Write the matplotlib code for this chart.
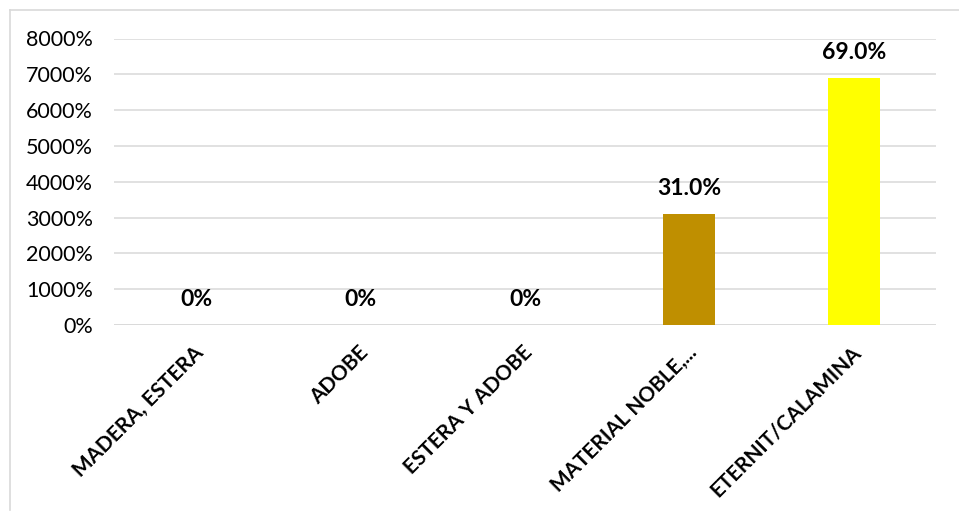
import matplotlib
matplotlib.use("Agg")
import matplotlib.pyplot as plt
from matplotlib.lines import Line2D
from matplotlib.ticker import FuncFormatter, MultipleLocator
from matplotlib.transforms import ScaledTranslation

categories = ["MADERA, ESTERA", "ADOBE", "ESTERA Y ADOBE", "MATERIAL NOBLE,...", "ETERNIT/CALAMINA"]
values = [0, 0, 0, 31, 69]
bar_labels = ["0%", "0%", "0%", "31.0%", "69.0%"]
colors = ["#BF8F00", "#BF8F00", "#BF8F00", "#BF8F00", "#FFFF00"]

plt.rcParams["font.family"] = ["Lato", "DejaVu Sans"]

W, H = 959, 515
fig = plt.figure(figsize=(W / 100, H / 100), dpi=100)
ax = fig.add_axes([114 / W, 1 - 325 / H, (936 - 114) / W, (325 - 38.5) / H])

x = range(len(categories))
ax.bar(x, values, width=0.316, color=colors, zorder=3)
ax.set_xlim(-0.5, len(categories) - 0.5)
ax.set_ylim(0, 80)
ax.yaxis.set_major_locator(MultipleLocator(10))
ax.yaxis.set_major_formatter(FuncFormatter(lambda v, p: f"{v * 100:.0f}%"))
ax.grid(axis="y", color="#D9D9D9", linewidth=1.1, zorder=0)
for s in ax.spines.values():
    s.set_visible(False)
ax.axhline(0, color="#D9D9D9", linewidth=1.1, zorder=1)
ax.tick_params(axis="y", length=0, pad=15, labelsize=15.5, labelcolor="#000000")
ax.tick_params(axis="x", length=0, pad=4)
ax.set_xticks(list(x))
ax.set_xticklabels(categories, rotation=45, ha="right", rotation_mode="anchor",
                   fontsize=15, fontweight="bold")
for lbl in ax.get_xticklabels():
    lbl.set_transform(lbl.get_transform() + ScaledTranslation(-3 / 100, -12 / 100, fig.dpi_scale_trans))

for xi, v, t in zip(x, values, bar_labels):
    ax.annotate(t, (xi, v), xytext=(0, 18), textcoords="offset points",
                ha="center", va="center", fontsize=16.5, fontweight="bold", zorder=4)

# chart frame
fig.add_artist(Line2D([9.5 / W, 1], [1 - 9.5 / H, 1 - 9.5 / H], color="#D9D9D9", linewidth=1.2))
fig.add_artist(Line2D([9.5 / W, 9.5 / W], [1 - 9.5 / H, 1 - 510 / H], color="#D9D9D9", linewidth=1.2))

fig.savefig("out.png", dpi=100)
